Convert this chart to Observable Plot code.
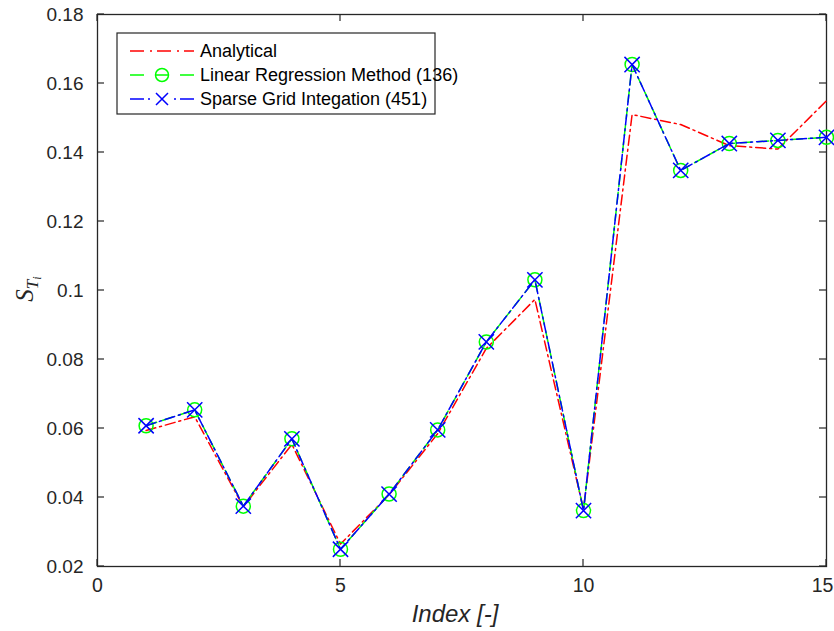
<!DOCTYPE html>
<html><head><meta charset="utf-8">
<script src="https://cdn.jsdelivr.net/npm/d3@7"></script>
<script src="https://cdn.jsdelivr.net/npm/@observablehq/plot@0.6"></script>
<style>body{margin:0;background:#fff} #wrap{position:relative;width:834px;height:631px}</style>
</head><body><div id="wrap"></div>
<script>
const indices = [1,2,3,4,5,6,7,8,9,10,11,12,13,14,15];
const analytical = [0.0594,0.0634,0.0373,0.0554,0.0265,0.0408,0.0585,0.0832,0.0974,0.0365,0.1510,0.1481,0.1420,0.1410,0.1550];
const linearRegression = [0.0608,0.0654,0.0375,0.0570,0.0250,0.0410,0.0596,0.0851,0.1031,0.0362,0.1655,0.1348,0.1426,0.1435,0.1444];
const sparseGrid = [0.0608,0.0654,0.0375,0.0570,0.0250,0.0410,0.0596,0.0851,0.1031,0.0362,0.1655,0.1348,0.1426,0.1435,0.1444];
const xTicks = [0,5,10,15];
const yTicks = [0.02,0.04,0.06,0.08,0.1,0.12,0.14,0.16,0.18];
const seriesNames = ["Analytical","Linear Regression Method (136)","Sparse Grid Integation (451)"];
const seriesColors = ["#ff0000","#00ff00","#0000ff"];

const axisColor = "#262626";
const chart = Plot.plot({
  width: 834, height: 631,
  marginLeft: 97, marginRight: 8, marginTop: 14, marginBottom: 65,
  style: {fontFamily: "'Liberation Sans', Arial, sans-serif", fontSize: "16px", background: "#fff", color: axisColor},
  x: {domain: [0, 15]},
  y: {domain: [0.02, 0.18]},
  marks: [
    Plot.frame({stroke: axisColor, strokeWidth: 1.3}),
    Plot.axisX(xTicks.slice(0, -1), {anchor: "bottom", tickSize: 0, tickPadding: 12, label: null, fontSize: 19.5, tickFormat: d => String(d)}),
    Plot.axisX(xTicks.slice(-1), {anchor: "bottom", tickSize: 0, tickPadding: 12, label: null, fontSize: 19.5, dx: -4, tickFormat: d => String(d)}),
    Plot.axisY(yTicks, {anchor: "left", tickSize: 0, tickPadding: 14, label: null, fontSize: 19, tickFormat: d => String(d)}),
    Plot.line(indices, {x: d => d, y: (d, i) => analytical[i], stroke: seriesColors[0], strokeWidth: 1.5, strokeDasharray: "10,4,2,4"}),
    Plot.line(indices, {x: d => d, y: (d, i) => linearRegression[i], stroke: seriesColors[1], strokeWidth: 1.5, strokeDasharray: "11,6"}),
    Plot.dot(indices, {x: d => d, y: (d, i) => linearRegression[i], stroke: seriesColors[1], r: 7, strokeWidth: 1.5, fill: "none"}),
    Plot.line(indices, {x: d => d, y: (d, i) => sparseGrid[i], stroke: seriesColors[2], strokeWidth: 1.5, strokeDasharray: "10,4,2,4"}),
    Plot.dot(indices, {x: d => d, y: (d, i) => sparseGrid[i], stroke: seriesColors[2], symbol: "times", r: 7, strokeWidth: 1.5, fill: "none"})
  ]
});
document.getElementById("wrap").appendChild(chart);

const svg = d3.select(chart);
const sx = chart.scale("x"), sy = chart.scale("y");
const [x0, x1] = sx.range, [y0, y1] = sy.range;
const tk = svg.append("g").attr("stroke", axisColor).attr("stroke-width", 1.2);
xTicks.forEach(v => {
  const px = sx.apply(v);
  tk.append("line").attr("x1", px).attr("x2", px).attr("y1", y0).attr("y2", y0 - 7);
  tk.append("line").attr("x1", px).attr("x2", px).attr("y1", y1).attr("y2", y1 + 7);
});
yTicks.forEach(v => {
  const py = sy.apply(v);
  tk.append("line").attr("y1", py).attr("y2", py).attr("x1", x0).attr("x2", x0 + 7);
  tk.append("line").attr("y1", py).attr("y2", py).attr("x1", x1).attr("x2", x1 - 7);
});
// x label
svg.append("text").attr("x", 455).attr("y", 622)
  .attr("text-anchor", "middle").attr("font-style", "italic").attr("font-size", 24)
  .attr("fill", axisColor).text("Index [-]");
// y label S_{T_i}
const yl = svg.append("text").attr("transform", "translate(33,289) rotate(-90)")
  .attr("text-anchor", "middle").attr("font-family", "'Liberation Serif', 'DejaVu Serif', serif")
  .attr("font-style", "italic").attr("fill", axisColor);
yl.append("tspan").attr("font-size", 25).text("S");
yl.append("tspan").attr("font-size", 17).attr("dy", 5).text("T");
yl.append("tspan").attr("font-size", 12).attr("dy", 3).text("i");

// legend
const lg = svg.append("g").attr("transform", "translate(117,33)");
lg.append("rect").attr("width", 318).attr("height", 81).attr("fill", "#fff").attr("stroke", axisColor).attr("stroke-width", 1.2);
const rowsY = [18, 42, 66];
const segs = [
  [[13,27],[33,35],[40,54],[60,62],[67,77]],
  [[13,27],[38,52],[63,77]],
  [[13,27],[31,33],[57,59],[63,77]]
];
seriesNames.forEach((name, i) => {
  const g = lg.append("g").attr("transform", `translate(0,${rowsY[i]})`);
  segs[i].forEach(([a, b]) => g.append("line").attr("x1", a).attr("x2", b).attr("stroke", seriesColors[i]).attr("stroke-width", 1.5));
  if (i === 1) g.append("circle").attr("cx", 45).attr("r", 6.5).attr("fill", "none").attr("stroke", seriesColors[1]).attr("stroke-width", 1.5);
  if (i === 2) g.append("path").attr("d", "M39,-6L51,6M39,6L51,-6").attr("stroke", seriesColors[2]).attr("stroke-width", 1.5);
  g.append("text").attr("x", 83).attr("y", 0).attr("dy", "0.35em").attr("text-anchor", "start")
    .attr("font-size", 18).attr("fill", "#000").text(name);
});
</script></body></html>
